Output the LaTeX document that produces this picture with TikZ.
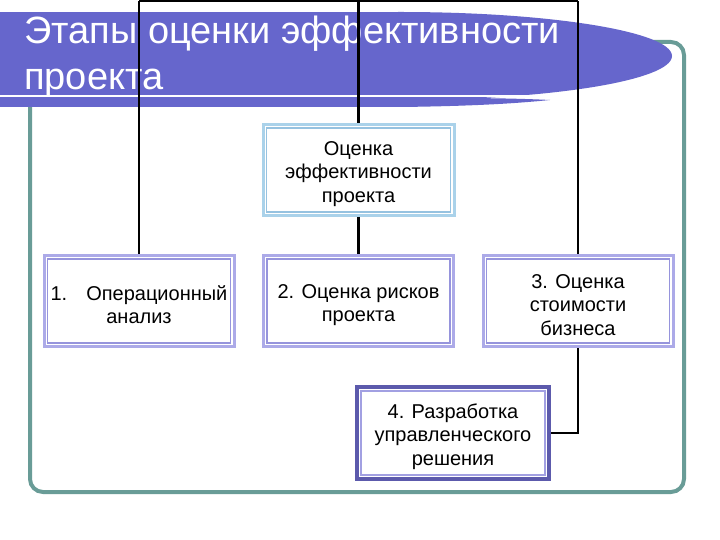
\documentclass[tikz,border=0pt]{standalone}
\usepackage{fontspec}
\setmainfont{Liberation Sans}
\definecolor{framec}{RGB}{105,156,151}
\definecolor{bannerc}{RGB}{102,102,204}
\definecolor{lbout}{RGB}{170,210,234}
\definecolor{lbin}{RGB}{150,194,224}
\definecolor{lvout}{RGB}{172,170,232}
\definecolor{lvin}{RGB}{150,148,220}
\definecolor{dkout}{RGB}{92,90,172}
\definecolor{dkin}{RGB}{162,160,226}
\newcommand\firstlinestrut{\rule{0pt}{22pt}}
\begin{document}
\begin{tikzpicture}[x=1pt,y=-1pt,
  boxtext/.style={fill=white, line width=3pt, align=center, inner sep=0pt,
    font=\fontsize{20}{23.5}\selectfont, text=black},
  bluebox/.style={boxtext, draw=lbout},
  lavbox/.style={boxtext, draw=lvout},
  darkbox/.style={boxtext, draw=dkout, line width=3.5pt},
  conn/.style={draw=black, line width=2.2pt},
  titletext/.style={text=white, font=\fontsize{38}{46}\selectfont, inner sep=0pt, anchor=base west}
]
\useasboundingbox (0,0) rectangle (720,540);
\fill[white] (0,0) rectangle (720,540);
% frame
\draw[framec, line width=4pt, rounded corners=13pt] (30,42) rectangle (684,492);
% banner
\fill[bannerc] (0,12) rectangle (401,107);
\fill[bannerc] (401,56) ellipse [x radius=271pt, y radius=44pt];
\fill[bannerc] (0,98) -- (450,98) .. controls (500,98) and (530,99) .. (550,100)
   .. controls (520,103) and (480,106) .. (401,107) -- (0,107) -- cycle;
\draw[white, line width=2pt] (0,96.5) -- (560,96.5);
\node[titletext] (title1) at (24,44) {Этапы оценки эффективности};
\node[titletext] (title2) at (24,90) {проекта};
% boxes
\node[bluebox, minimum width=191pt, minimum height=91pt] (top) at (358.5,170)
  {\firstlinestrut Оценка\\эффективности\\проекта};
\node[lavbox, minimum width=190pt, minimum height=91pt] (b1) at (139,301)
  {\firstlinestrut 1.\hspace{0.95em}Операционный\\анализ};
\node[lavbox, minimum width=190pt, minimum height=91pt] (b2) at (358.5,301)
  {\firstlinestrut 2. Оценка рисков\\проекта};
\node[lavbox, minimum width=190pt, minimum height=91pt] (b3) at (578,301)
  {\firstlinestrut 3. Оценка\\стоимости\\бизнеса};
\node[darkbox, minimum width=192pt, minimum height=92pt] (b4) at (453,433)
  {\firstlinestrut 4. Разработка\\управленческого\\решения};
% inner borders
\draw[lbin, line width=1.8pt] ([shift={(5,5)}]top.north west) rectangle ([shift={(-5,-5)}]top.south east);
\foreach \n in {b1,b2,b3}
  \draw[lvin, line width=1.8pt] ([shift={(5,5)}]\n.north west) rectangle ([shift={(-5,-5)}]\n.south east);
\draw[dkin, line width=1.8pt] ([shift={(5.5,5.5)}]b4.north west) rectangle ([shift={(-5.5,-5.5)}]b4.south east);
% connectors
\coordinate (t1) at (139,1);
\coordinate (t2) at (358.5,1);
\coordinate (t3) at (578,1);
\draw[conn] (t1) -- (t3);
\draw[conn] (t1) -- (b1.north);
\draw[conn] (t2) -- (top.north);
\draw[conn] (t3) -- (b3.north);
\draw[conn] (top.south) -- (b2.north);
\draw[conn] (b3.south) |- (b4.east);
\end{tikzpicture}
\end{document}
